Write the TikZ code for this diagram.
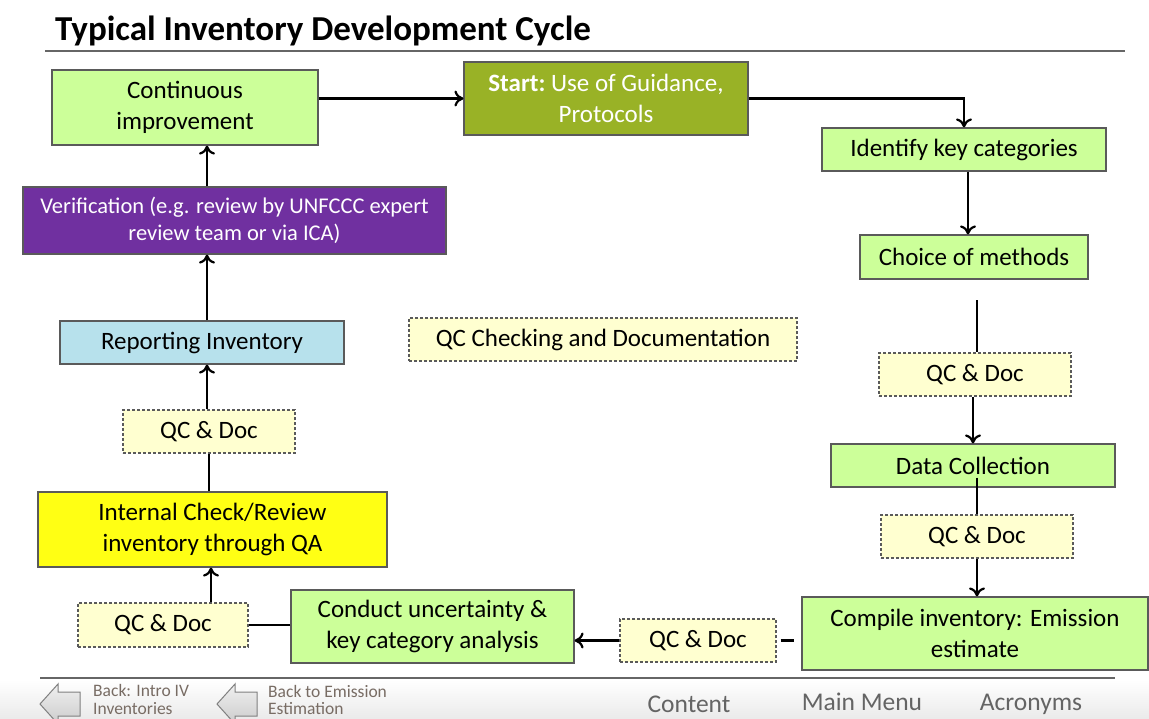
\documentclass[tikz,border=0pt]{standalone}
\usepackage{fontspec}
\setmainfont{Carlito}
\usetikzlibrary{arrows.meta,calc}
\definecolor{lgreen}{RGB}{204,255,153}
\definecolor{olive}{RGB}{153,178,38}
\definecolor{vpurple}{RGB}{112,48,160}
\definecolor{lblue}{RGB}{183,225,236}
\definecolor{yel}{RGB}{255,255,20}
\definecolor{qcfill}{RGB}{255,255,208}
\definecolor{bord}{RGB}{90,90,90}
\definecolor{navtxt}{RGB}{120,108,100}
\definecolor{navtxt2}{RGB}{100,100,100}
\tikzset{
  box/.style={draw=bord, line width=1.2pt, align=center, inner sep=0pt, font=\fontsize{25}{31}\selectfont},
  gbox/.style={box, fill=lgreen},
  qcbox/.style={box, fill=qcfill, dashed, dash pattern=on 3pt off 2pt},
  arr/.style={line width=2.5pt, -{To[length=9pt,width=16pt,line width=2.2pt]}},
  ln/.style={line width=2.5pt},
  navarrow/.style={draw=gray, line width=1pt, top color=black!6, bottom color=black!20},
  navsmall/.style={anchor=west, text=navtxt, font=\fontsize{17.5}{20}\selectfont, inner sep=0pt},
  navbig/.style={text=navtxt2, font=\fontsize{25.5}{30}\selectfont, inner sep=0pt},
}
\begin{document}
\begin{tikzpicture}[x=1pt,y=-1pt]
\useasboundingbox (0,0) rectangle (1149,718);
\fill[white] (0,0) rectangle (1149,718);
\shade[top color=white, bottom color=black!8] (0,680) rectangle (1149,718);
% title
\node[anchor=west, font=\fontsize{35}{40}\selectfont\bfseries, inner sep=0pt] (title) at (55,31) {Typical Inventory Development Cycle};
\draw[line width=1.6pt, black!60] (45,51) -- (1125,51);
% nodes
\node[gbox, minimum width=266pt, minimum height=75pt] (cont) at (185,107.5) {Continuous\\improvement};
\node[box, fill=olive, text=white, minimum width=284pt, minimum height=73pt] (start) at (606,98.5) {\textbf{Start:}~Use of Guidance,\\Protocols};
\node[gbox, minimum width=284pt, minimum height=43pt] (ident) at (964,149.5) {Identify key categories};
\node[gbox, minimum width=228pt, minimum height=44pt] (choice) at (974,257) {Choice of methods};
\node[qcbox, minimum width=192pt, minimum height=43pt] (qr1) at (975,374.5) {QC \& Doc};
\node[gbox, minimum width=284pt, minimum height=43pt] (data) at (973,465.5) {Data Collection};
\node[qcbox, minimum width=192pt, minimum height=43pt] (qr2) at (977,536.5) {QC \& Doc};
\node[gbox, minimum width=346pt, minimum height=73pt] (comp) at (975,633.5) {Compile inventory: Emission\\estimate};
\node[qcbox, minimum width=156pt, minimum height=43pt] (qb) at (698,640.5) {QC \& Doc};
\node[gbox, minimum width=283pt, minimum height=73pt] (unc) at (432.5,626.5) {Conduct uncertainty \&\\key category analysis};
\node[qcbox, minimum width=170pt, minimum height=44pt] (ql2) at (163,625) {QC \& Doc};
\node[box, fill=yel, minimum width=349pt, minimum height=75pt] (internal) at (212.5,529.5) {Internal Check/Review\\inventory through QA};
\node[qcbox, minimum width=172pt, minimum height=43pt] (ql1) at (209,431.5) {QC \& Doc};
\node[box, fill=lblue, minimum width=284pt, minimum height=43pt] (report) at (202,342.5) {Reporting Inventory};
\node[box, fill=vpurple, text=white, minimum width=423pt, minimum height=67pt, font=\fontsize{22.5}{27}\selectfont] (verif) at (234.5,220.5) {Verification (e.g. review by UNFCCC expert\\review team or via ICA)};
\node[qcbox, minimum width=388pt, minimum height=43pt] (qcc) at (603,339.5) {QC Checking and Documentation};
% connectors
\draw[arr] (cont.east |- start.west) -- (start.west);
\draw[arr] (start.east) -| (ident.north);
\draw[arr] ([xshift=4pt]ident.south) -- ([xshift=4pt]ident.south |- choice.north);
\coordinate (c1) at (977,300);
\draw[ln] (c1) -- (c1 |- qr1.north);
\draw[arr] (qr1.south -| data.north) -- (data.north);
\draw[ln] ($(data.south -| qr2.north)+(0,-10)$) -- (qr2.north);
\draw[arr] (qr2.south) -- (qr2.south |- comp.north);
\draw[ln, shorten <=4pt, shorten >=7pt] (qb.east) -- (comp.west |- qb.east);
\draw[arr] (qb.west) -- (unc.east |- qb.west);
\draw[ln] (unc.west |- ql2.east) -- (ql2.east);
\draw[arr] ([xshift=48pt]ql2.north) -- ([xshift=48pt]ql2.north |- internal.south);
\draw[ln] (internal.north -| ql1.south) -- (ql1.south);
\draw[arr] ([xshift=-2pt]ql1.north) -- ([xshift=-2pt]ql1.north |- report.south);
\draw[arr] ([xshift=-2pt]ql1.north |- report.north) -- ([xshift=-2pt]ql1.north |- verif.south);
\draw[arr] ([xshift=-2pt]ql1.north |- verif.north) -- ([xshift=-2pt]ql1.north |- cont.south);
% bottom navigation
\draw[line width=1.6pt, black!60] (40,678) -- (1115,678);
\draw[navarrow] (40,704) -- (58,684) -- (58,692) -- (80,692) -- (80,716) -- (58,716) -- (58,724) -- cycle;
\draw[navarrow] (217,704) -- (235,684) -- (235,692) -- (257,692) -- (257,716) -- (235,716) -- (235,724) -- cycle;
\node[navsmall] (nav1) at (93,690) {Back: Intro IV};
\node[navsmall] (nav1b) at (93,709) {Inventories};
\node[navsmall] (nav2) at (268,691) {Back to Emission};
\node[navsmall] (nav2b) at (268,709) {Estimation};
\node[navbig] (content) at (689,704) {Content};
\node[navbig] (menu) at (862,702) {Main Menu};
\node[navbig] (acro) at (1031,704) {Acronyms};
\end{tikzpicture}
\end{document}
